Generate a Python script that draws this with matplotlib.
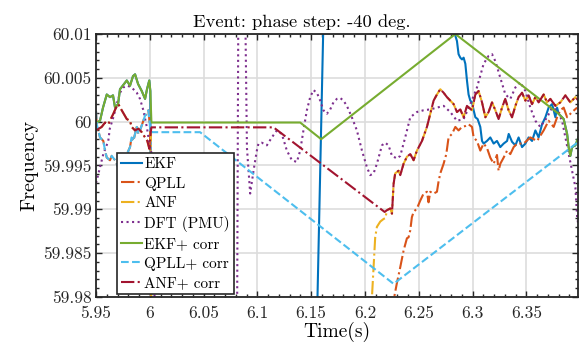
import matplotlib
matplotlib.use('Agg')
import matplotlib.pyplot as plt
from matplotlib.ticker import MultipleLocator, FuncFormatter

plt.rcParams['font.family'] = ['cmr10', 'DejaVu Serif']
plt.rcParams['axes.unicode_minus'] = False

# ---- data (time in s, frequency in Hz) ----
# noisy start, shared by each method and its "+ corr" version
ekf_t0 = [5.95, 5.9507, 5.9537, 5.9565, 5.96, 5.963, 5.9658, 5.9677, 5.9705, 5.9723,
          5.9786, 5.9816, 5.9844, 5.9863, 5.9891, 5.9925, 5.9956, 5.9974, 5.9995, 6.0005]
ekf_f0 = [59.9998, 59.9999, 60.0001, 60.0016, 60.0031, 60.0028, 60.003, 60.0016, 60.002, 60.0037,
          60.0047, 60.0041, 60.0052, 60.0054, 60.0043, 60.0035, 60.0026, 60.0037, 60.0047, 60.0035]

qpll_t0 = [5.95, 5.9507, 5.9537, 5.9568, 5.9584, 5.96, 5.963, 5.9646, 5.9677, 5.9707, 5.9739, 5.977,
           5.9816, 5.9831, 5.9847, 5.9879, 5.9894, 5.9909, 5.994, 5.9956, 5.9972, 5.9987, 6.0002]
qpll_f0 = [60.0012, 59.9997, 59.9982, 59.9978, 59.9967, 59.9959, 59.9956, 59.9961, 59.9956, 59.9948,
           59.9952, 59.9958, 59.9971, 59.9982, 59.9978, 59.9994, 59.9986, 59.999, 60.0001, 60.0007,
           60.0009, 60.0013, 59.9994]

anf_t0 = [5.95, 5.9553, 5.9584, 5.9614, 5.9637, 5.9661, 5.9686, 5.9707, 5.9739, 5.9786, 5.9816,
          5.9831, 5.9863, 5.9894, 5.9925, 5.9956, 5.9977, 5.9996, 6.0009]
anf_f0 = [59.999, 59.9994, 59.9999, 59.9997, 60.0003, 60.0009, 60.0016, 60.002, 60.0013, 60.0003,
          60.0001, 59.9994, 59.999, 59.9992, 59.9988, 59.9982, 59.9978, 59.9969, 59.9988]

# EKF after the step
ekf_t1 = [6.0015, 6.1550, 6.1620, 6.2830, 6.2840, 6.2855, 6.2870, 6.2886, 6.2902, 6.2917, 6.2933,
          6.2948, 6.2963, 6.2979, 6.2995, 6.3010, 6.3026, 6.3047, 6.3072, 6.3088, 6.3103, 6.3134,
          6.3165, 6.3196, 6.3227, 6.3258, 6.3289, 6.3321, 6.3336, 6.3367, 6.3398, 6.3428, 6.3460,
          6.3491, 6.3521, 6.3553, 6.3584, 6.3614, 6.3646, 6.3677, 6.3707, 6.3739, 6.3754, 6.3770,
          6.3786, 6.3800]
ekf_f1 = [59.97, 59.975, 60.015, 60.012, 60.0098, 60.0092, 60.0077, 60.0073, 60.0071, 60.0073,
          60.0066, 60.0047, 60.0031, 60.0024, 60.0022, 60.0013, 60.0005, 60.0003, 59.9994, 59.9978,
          59.9975, 59.9978, 59.9982, 59.9975, 59.9978, 59.9971, 59.9975, 59.9978, 59.9986, 59.9977,
          59.9973, 59.9982, 59.9971, 59.9975, 59.9982, 59.9978, 59.999, 59.9982, 59.9997, 60.0005,
          60.0016, 60.002, 60.0013, 60.0005, 60.0016, 60.0009]
# common tail of EKF and EKF+ corr
ekf_tail_t = [6.3847, 6.3879, 6.3893, 6.3909, 6.3925, 6.3956, 6.3984]
ekf_tail_f = [60.0003, 59.9986, 59.9971, 59.9961, 59.9971, 59.9973, 59.9982]

# EKF+ corr: flat, then ramps
ekfc_t1 = [6.0015, 6.1398, 6.1593, 6.2840, 6.3800]
ekfc_f1 = [59.9999, 59.9999, 59.998, 60.0100, 60.0009]

# QPLL after the step
qpll_t1 = [6.0015, 6.2260, 6.2272, 6.2297, 6.2328, 6.2359, 6.2390, 6.2405, 6.2421, 6.2436, 6.2452,
           6.2483, 6.2514, 6.2545, 6.2576, 6.2591, 6.2607, 6.2638, 6.2669, 6.2683, 6.2700, 6.2731,
           6.2756, 6.2777, 6.2809, 6.2840, 6.2870, 6.2902, 6.2933, 6.2963, 6.2995, 6.3010, 6.3041,
           6.3072, 6.3103, 6.3134, 6.3165, 6.3196, 6.3227, 6.3242, 6.3258, 6.3289, 6.3321, 6.3351,
           6.3382, 6.3414, 6.3475, 6.3537, 6.3600, 6.3661, 6.3707, 6.3754, 6.3786, 6.3816, 6.3847,
           6.3879, 6.3925, 6.3972]
qpll_f1 = [59.97, 59.979, 59.98, 59.9816, 59.9834, 59.9853, 59.9867, 59.9868, 59.9876, 59.9891,
           59.9897, 59.9901, 59.991, 59.9918, 59.992, 59.9908, 59.992, 59.9918, 59.992, 59.9931,
           59.9941, 59.9952, 59.9963, 59.9982, 59.9986, 59.9994, 59.999, 59.9994, 59.9995, 59.9997,
           59.9994, 59.9982, 59.9978, 59.9967, 59.9975, 59.997, 59.9959, 59.9952, 59.9962, 59.9944,
           59.9952, 59.9959, 59.9967, 59.9963, 59.9971, 59.9975, 59.9975, 59.9982, 59.9978, 59.999,
           60.0001, 59.9994, 60.0005, 60.0013, 60.0016, 60.0005, 60.0011, 60.0016]

# QPLL+ corr: flat, then ramps
qpllc_t1 = [6.0015, 6.0467, 6.2266, 6.3878, 6.3984]
qpllc_f1 = [59.9988, 59.9988, 59.9815, 59.9967, 59.9977]

# ANF / ANF+ corr recovery (shared)
anf_tail_t = [6.2204, 6.2235, 6.2251, 6.2266, 6.2281, 6.2312, 6.2328, 6.2359, 6.2390, 6.2421,
              6.2452, 6.2483, 6.2530, 6.2576, 6.2607, 6.2638, 6.2669, 6.2700, 6.2731, 6.2762,
              6.2793, 6.2824, 6.2855, 6.2886, 6.2917, 6.2948, 6.2995, 6.3026, 6.3056, 6.3088,
              6.3119, 6.3149, 6.3181, 6.3212, 6.3242, 6.3274, 6.3304, 6.3335, 6.3367, 6.3398,
              6.3428, 6.3460, 6.3491, 6.3521, 6.3553, 6.3584, 6.3614, 6.3661, 6.3692, 6.3723,
              6.3770, 6.3816, 6.3863, 6.3909, 6.3956, 6.3984]
anf_tail_f = [59.9899, 59.9901, 59.9895, 59.9929, 59.9941, 59.9944, 59.9939, 59.9952, 59.996,
              59.9963, 59.9956, 59.9967, 59.9978, 59.9994, 60.0009, 60.0024, 60.0031, 60.0037,
              60.0033, 60.0028, 60.0024, 60.002, 60.0011, 60.0014, 60.0005, 60.0018, 60.0013,
              60.0031, 60.0035, 60.0022, 60.0005, 60.0011, 60.0022, 60.0013, 60.0003, 60.0016,
              60.0026, 60.0013, 60.0005, 60.0018, 60.0028, 60.0033, 60.0024, 60.003, 60.002,
              60.0028, 60.0022, 60.0031, 60.0022, 60.0026, 60.0018, 60.0022, 60.003, 60.0022,
              60.0028, 60.0024]

# ANF before recovery
anf_t1 = [6.0015, 6.2055, 6.2065, 6.2080, 6.2095, 6.2111, 6.2142, 6.2173, 6.2190]
anf_f1 = [59.97, 59.975, 59.98, 59.9834, 59.9868, 59.988, 59.9886, 59.9889, 59.989]

# ANF+ corr: flat then ramp down
anfc_t1 = [6.0015, 6.1150, 6.2183]
anfc_f1 = [59.99935, 59.99935, 59.9897]

# DFT (PMU)
dft_t = [5.95, 5.9507, 5.9537, 5.9568, 5.9614, 5.9628, 5.9661, 5.9693, 5.9723, 5.9754, 5.9786,
         5.9816, 5.9847, 5.9879, 5.9909, 5.994, 5.9972, 6.0002, 6.0018, 6.0033, 6.0044, 6.0055,
         6.0809, 6.0825, 6.0880, 6.0903, 6.0933, 6.0964, 6.0995, 6.1010, 6.1041, 6.1088, 6.1134,
         6.1181, 6.1227, 6.1274, 6.1321, 6.1367, 6.1398, 6.1428, 6.1460, 6.1491, 6.1521, 6.1553,
         6.1584, 6.1614, 6.1646, 6.1677, 6.1707, 6.1739, 6.1770, 6.1800, 6.1832, 6.1878, 6.1925,
         6.1972, 6.2018, 6.2049, 6.2080, 6.2111, 6.2158, 6.2188, 6.2219, 6.2251, 6.2297, 6.2328,
         6.2374, 6.2421, 6.2483, 6.2545, 6.2607, 6.2669, 6.2731, 6.2793, 6.2855, 6.2917, 6.2979,
         6.3041, 6.3103, 6.3149, 6.3181, 6.3212, 6.3258, 6.3305, 6.3351, 6.3398, 6.3444, 6.3491,
         6.3537, 6.3584, 6.3630, 6.3693, 6.3739, 6.3786, 6.3832, 6.3863, 6.3894, 6.3925, 6.3956,
         6.3972, 6.3984]
dft_f = [59.993, 59.9933, 59.9948, 59.9963, 59.9978, 59.9992, 60.0005, 60.002, 60.0033, 60.0039,
         60.0041, 60.004, 60.0037, 60.0033, 60.0026, 60.0013, 59.9994, 59.9971, 59.9963, 59.991,
         59.98, 59.97, 59.97, 60.02, 60.02, 59.997, 59.9918, 59.9944, 59.9967, 59.9975, 59.9976,
         59.9973, 59.9982, 59.999, 59.9986, 59.9967, 59.9956, 59.9954, 59.9967, 59.999, 60.0013,
         60.0028, 60.0036, 60.0033, 60.0024, 60.0013, 60.0009, 60.0014, 60.0022, 60.0026, 60.0027,
         60.0024, 60.0018, 60.0005, 59.999, 59.9967, 59.9948, 59.9939, 59.9941, 59.9952, 59.9973,
         59.9976, 59.9973, 59.9961, 59.9958, 59.9961, 59.9982, 60.0005, 60.0011, 60.0013, 60.0014,
         60.0016, 60.0018, 60.0011, 60.0001, 60.0003, 60.002, 60.0039, 60.0066, 60.0075, 60.0077,
         60.0069, 60.005, 60.0031, 60.0026, 60.0039, 60.0045, 60.0035, 60.0016, 60.0001, 59.9994,
         60.0005, 60.0016, 60.0013, 60.0001, 59.9982, 59.9963, 59.9944, 59.9925, 59.9891, 59.9882]

ekf_t = ekf_t0 + ekf_t1 + ekf_tail_t
ekf_f = ekf_f0 + ekf_f1 + ekf_tail_f
ekfc_t = ekf_t0 + ekfc_t1 + ekf_tail_t
ekfc_f = ekf_f0 + ekfc_f1 + ekf_tail_f
qpll_t = qpll_t0 + qpll_t1
qpll_f = qpll_f0 + qpll_f1
qpllc_t = qpll_t0 + qpllc_t1
qpllc_f = qpll_f0 + qpllc_f1
anf_t = anf_t0 + anf_t1 + anf_tail_t
anf_f = anf_f0 + anf_f1 + anf_tail_f
anfc_t = anf_t0 + anfc_t1 + anf_tail_t
anfc_f = anf_f0 + anfc_f1 + anf_tail_f

labels = ['EKF', 'QPLL', 'ANF', 'DFT (PMU)', 'EKF+ corr', 'QPLL+ corr', 'ANF+ corr']
colors = ['#0072BD', '#D95319', '#EDB120', '#7E2F8E', '#77AC30', '#4DBEEE', '#A2142F']
styles = ['-', '-.', '-.', ':', '-', '--', '-.']

fig = plt.figure(figsize=(5.84, 3.48), dpi=100)
ax = fig.add_axes([0.1644, 0.1466, 0.8253, 0.7557])

series = [(ekf_t, ekf_f), (qpll_t, qpll_f), (anf_t, anf_f), (dft_t, dft_f),
          (ekfc_t, ekfc_f), (qpllc_t, qpllc_f), (anfc_t, anfc_f)]
for (t, f), lab, c, ls in zip(series, labels, colors, styles):
    ax.plot(t, f, ls, color=c, lw=1.5, label=lab)

ax.set_xlim(5.95, 6.398)
ax.set_ylim(59.98, 60.01)
ax.xaxis.set_major_locator(MultipleLocator(0.05))
ax.xaxis.set_minor_locator(MultipleLocator(0.01))
ax.yaxis.set_major_locator(MultipleLocator(0.005))
ax.yaxis.set_minor_locator(MultipleLocator(0.001))
fmt = FuncFormatter(lambda v, p: '%g' % round(v, 4))
ax.xaxis.set_major_formatter(fmt)
ax.yaxis.set_major_formatter(fmt)
ax.tick_params(which='both', direction='in', top=True, right=True, labelsize=12.5, colors='#262626')
ax.tick_params(which='major', length=4, width=1, pad=3)
ax.tick_params(axis='x', which='major', pad=6)
ax.tick_params(which='minor', length=2.5, width=1)
for s in ax.spines.values():
    s.set_linewidth(1.3)
    s.set_color('#262626')
ax.grid(True, which='major', color='#dddddd', lw=1.2)
ax.set_axisbelow(True)

ax.set_title('Event: phase step: -40 deg.', fontsize=13.3, x=0.427, pad=5)
ax.set_xlabel('Time(s)', fontsize=14, labelpad=1)
ax.set_ylabel('Frequency', fontsize=14.5, labelpad=4)

leg = ax.legend(loc='lower left', bbox_to_anchor=(0.043, 0.012), fontsize=11, fancybox=False,
                framealpha=1, edgecolor='#262626', handlelength=1.4, handletextpad=0.15,
                labelspacing=0.37, borderpad=0.25, borderaxespad=0)
leg.get_frame().set_linewidth(1.2)

fig.savefig('out.png', dpi=100)
